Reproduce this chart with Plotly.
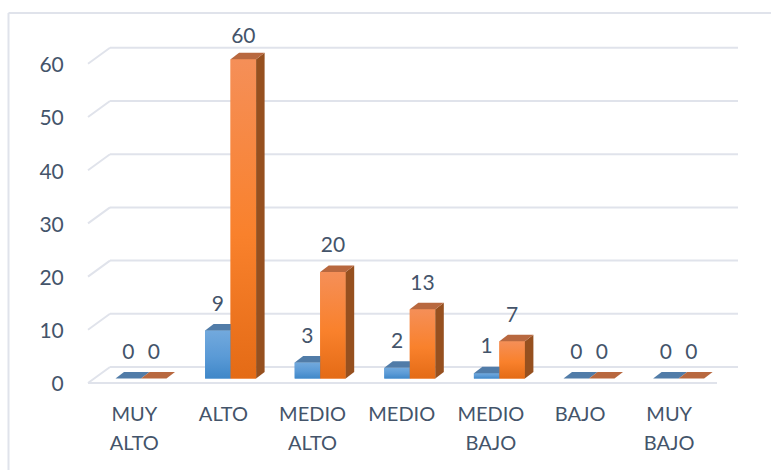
import plotly.graph_objects as go

categories = ["MUY<br>ALTO", "ALTO", "MEDIO<br>ALTO", "MEDIO", "MEDIO<br>BAJO", "BAJO", "MUY<br>BAJO"]
series_a = [0, 9, 3, 2, 1, 0, 0]
series_b = [0, 60, 20, 13, 7, 0, 0]
y_ticks = [0, 10, 20, 30, 40, 50, 60]

# ---- layout constants (pixels of the 771x471 page) ----
W, H = 771, 471
ML, MB = 72, 79
PX_CAT = 89.6
PX_VAL = 5.32
X0 = 141.0   # pixel of category 0 centre
Y0 = 383.0   # pixel of value 0 on the front wall plane
PLOT_H = H - MB
x_range = [(ML - X0) / PX_CAT, (W - X0) / PX_CAT]
y_range = [(Y0 - PLOT_H) / PX_VAL, Y0 / PX_VAL]

BASE = 4.5 / PX_VAL       # bars stand a bit behind the front edge
DX, DY = 8.5 / PX_CAT, 6.5 / PX_VAL   # bar depth
WALL_DY = 16 / PX_VAL
WALL_L, WALL_LB = (88 - X0) / PX_CAT, (110 - X0) / PX_CAT
WALL_RF, WALL_RB = (717 - X0) / PX_CAT, (738 - X0) / PX_CAT
BW = 25.5 / PX_CAT
GAP = 1 - 2 * BW

FONT = "Lato"
TEXT = "#44546a"
GRID = "#e0e3eb"

fig = go.Figure()
idx = list(range(len(categories)))

# real bars (below the shaded faces)
for vals, col, off in ((series_a, "#5598d6", -BW / 2), (series_b, "#f47c2a", BW / 2)):
    fig.add_trace(go.Bar(x=[i + off for i in idx], y=vals, base=BASE, width=BW,
                         marker=dict(color=col, line=dict(width=0)), showlegend=False))


def poly(xs, ys, color=None, grad=None):
    kw = dict(x=xs + xs[:1], y=ys + ys[:1], mode="lines", line=dict(width=0),
              fill="toself", showlegend=False, hoverinfo="skip")
    if grad:
        kw["fillgradient"] = dict(type="vertical", colorscale=[[0, grad[2]], [0.45, grad[1]], [1, grad[0]]])
        kw["fillcolor"] = grad[1]
    else:
        kw["fillcolor"] = color
    fig.add_trace(go.Scatter(**kw))


for i in idx:
    for vals, off, front, side, top in (
        (series_a, -BW, ("#72a9dd", "#5a9ad6", "#3f87c8"), "#3d6a99", "#517ca8"),
        (series_b, 0, ("#f58f58", "#f9812c", "#e46b16"), "#96501f", "#b8683f"),
    ):
        v = vals[i]
        xl, xr = i + off, i + off + BW
        yb, yt = BASE, BASE + v
        if v > 0:
            poly([xl, xr, xr, xl], [yb, yb, yt, yt], grad=front)
            poly([xr, xr + DX, xr + DX, xr], [yb, yb + DY, yt + DY, yt], color=side)
        poly([xl, xr, xr + DX, xl + DX], [yt, yt, yt + DY, yt + DY], color=top)

# value labels (the tallest label sits closer to its bar)
for vals, off in ((series_a, -BW / 2), (series_b, BW / 2)):
    fig.add_trace(go.Scatter(
        x=[i + off for i in idx],
        y=[v + BASE + (22 if v == max(vals) and v == 60 else 25) / PX_VAL for v in vals],
        text=[str(v) for v in vals], mode="text", textposition="middle center",
        textfont=dict(family=FONT, size=21, color=TEXT), showlegend=False, hoverinfo="skip"))

# wall grid as shapes behind the bars
shapes = []
line = dict(color=GRID, width=2)
for t in y_ticks:
    shapes.append(dict(type="line", layer="below", xref="x", yref="y", x0=WALL_L, y0=t,
                       x1=WALL_LB, y1=t + WALL_DY, line=line))
    shapes.append(dict(type="line", layer="below", xref="x", yref="y", x0=WALL_LB, y0=t + WALL_DY,
                       x1=WALL_RB, y1=t + WALL_DY, line=line))
shapes.append(dict(type="line", layer="below", xref="x", yref="y", x0=WALL_L, y0=0,
                   x1=WALL_RF, y1=0, line=line))

# outer frame: top and left only
pw, ph = W - ML, PLOT_H
fx = (8.5 - ML) / pw
fy = 1 - 13 / ph
shapes.append(dict(type="line", xref="paper", yref="paper", x0=fx, y0=fy, x1=1, y1=fy, line=line))
shapes.append(dict(type="line", xref="paper", yref="paper", x0=fx, y0=fy, x1=fx,
                   y1=1 - 470 / ph, line=line))

# tick font size 22 sets the line pitch; the glyphs themselves stay at 20 px
tick_text = ["<br>".join(f"<span style='font-size:20px'>{p}</span>" for p in c.split("<br>")) for c in categories]

fig.update_layout(
    width=W, height=H, margin=dict(l=ML, r=0, t=0, b=MB, pad=0),
    paper_bgcolor="white", plot_bgcolor="white",
    barmode="overlay", bargap=GAP, shapes=shapes, showlegend=False,
    font=dict(family=FONT, size=20, color=TEXT),
    xaxis=dict(range=x_range, tickmode="array", tickvals=[i * 0.995 - 0.075 for i in idx], ticktext=tick_text,
               showgrid=False, zeroline=False, showline=False, ticks="outside", ticklen=2,
               tickcolor="rgba(0,0,0,0)", tickfont=dict(family=FONT, size=22, color=TEXT), tickangle=0),
    yaxis=dict(range=y_range, tickmode="array", tickvals=[t - 0.2 for t in y_ticks], ticktext=[str(t) for t in y_ticks],
               showgrid=False, zeroline=False, showline=False, ticks="outside", ticklen=3,
               tickcolor="rgba(0,0,0,0)", tickfont=dict(family=FONT, size=21, color=TEXT)),
)

fig.write_html("out.html", config={"displayModeBar": False},
               post_script="document.body.style.margin='0';")
